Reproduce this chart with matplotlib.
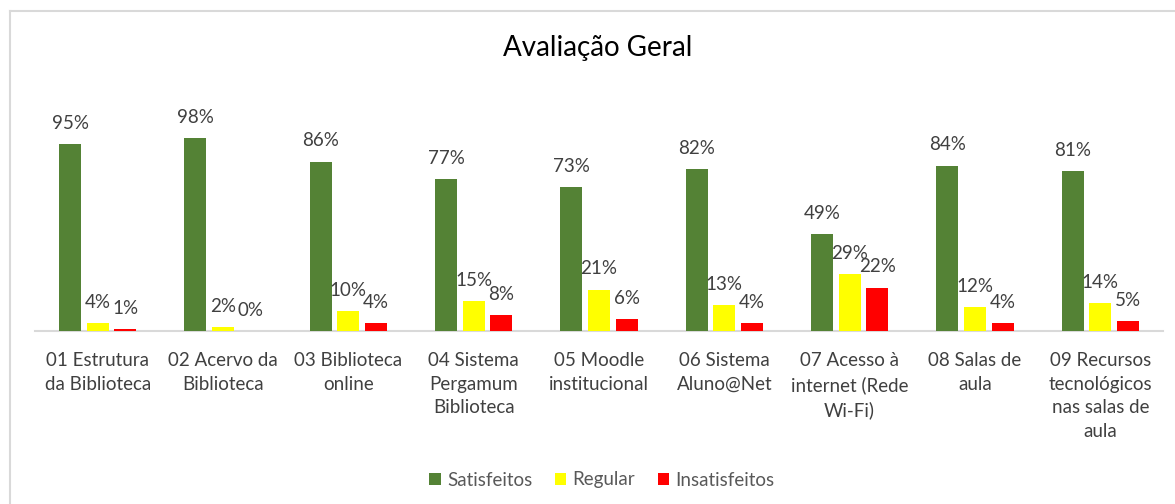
import matplotlib
matplotlib.use("Agg")
import matplotlib.pyplot as plt
import numpy as np
from matplotlib.lines import Line2D

categories = [
    "01 Estrutura\nda Biblioteca",
    "02 Acervo da\nBiblioteca",
    "03 Biblioteca\nonline",
    "04 Sistema\nPergamum\nBiblioteca",
    "05 Moodle\ninstitucional",
    "06 Sistema\nAluno@Net",
    "07 Acesso à\ninternet (Rede\nWi-Fi)",
    "08 Salas de\naula",
    "09 Recursos\ntecnológicos\nnas salas de\naula",
]
series_names = ["Satisfeitos", "Regular", "Insatisfeitos"]
satisfeitos = [95, 98, 86, 77, 73, 82, 49, 84, 81]
regular = [4, 2, 10, 15, 21, 13, 29, 12, 14]
insatisfeitos = [1, 0, 4, 8, 6, 4, 22, 4, 5]
colors = ["#548235", "#FFFF00", "#FF0000"]

plt.rcParams['font.family'] = ['Lato', 'DejaVu Sans']

W, H = 1175, 504
fig = plt.figure(figsize=(W / 100, H / 100), dpi=100)

# chart border
fig.add_artist(Line2D([10 / W, 1.0], [1 - 11 / H, 1 - 11 / H], color="#D9D9D9", lw=1.5))
fig.add_artist(Line2D([10 / W, 10 / W], [0, 1 - 11 / H], color="#D9D9D9", lw=1.5))

base_y = 331
px_per_pct = 1.97
ax_h = 100 * px_per_pct
ax = fig.add_axes([35 / W, (H - base_y) / H, (1163 - 35) / W, ax_h / H])

FS = 13.5
n = len(categories)
x = np.arange(n)
bw = 22 / 125.3
step = 27.5 / 125.3
data = [satisfeitos, regular, insatisfeitos]
for i, (vals, col, name) in enumerate(zip(data, colors, series_names)):
    pos = x + (i - 1) * step
    ax.bar(pos, vals, width=bw, color=col, label=name, zorder=3)
    for p, v in zip(pos, vals):
        ax.text(p, v + 10.5, f"{v}%", ha="center", va="center", fontsize=FS,
                color="#404040", clip_on=False)

ax.set_xlim(-0.5, n - 0.5)
ax.set_ylim(0, 100)
ax.set_yticks([])
ax.set_xticks(x)
ax.set_xticklabels(categories, fontsize=FS, color="#404040", linespacing=1.48)
ax.tick_params(axis="x", length=0, pad=15)
for s in ["top", "right", "left"]:
    ax.spines[s].set_visible(False)
ax.spines["bottom"].set_color("#D9D9D9")
ax.spines["bottom"].set_linewidth(1.5)
ax.spines["bottom"].set_zorder(2)

fig.text(598 / W, 1 - 48 / H, "Avaliação Geral", ha="center", va="center",
         fontsize=20, color="#000000")

leg = fig.legend(loc="center", bbox_to_anchor=(602 / W, 1 - 480 / H), ncol=3,
                 frameon=False, fontsize=FS, handlelength=0.6, handleheight=0.6,
                 handletextpad=0.35, columnspacing=1.2)
for t in leg.get_texts():
    t.set_color("#595959")

fig.savefig("out.png", dpi=100, facecolor="white")
